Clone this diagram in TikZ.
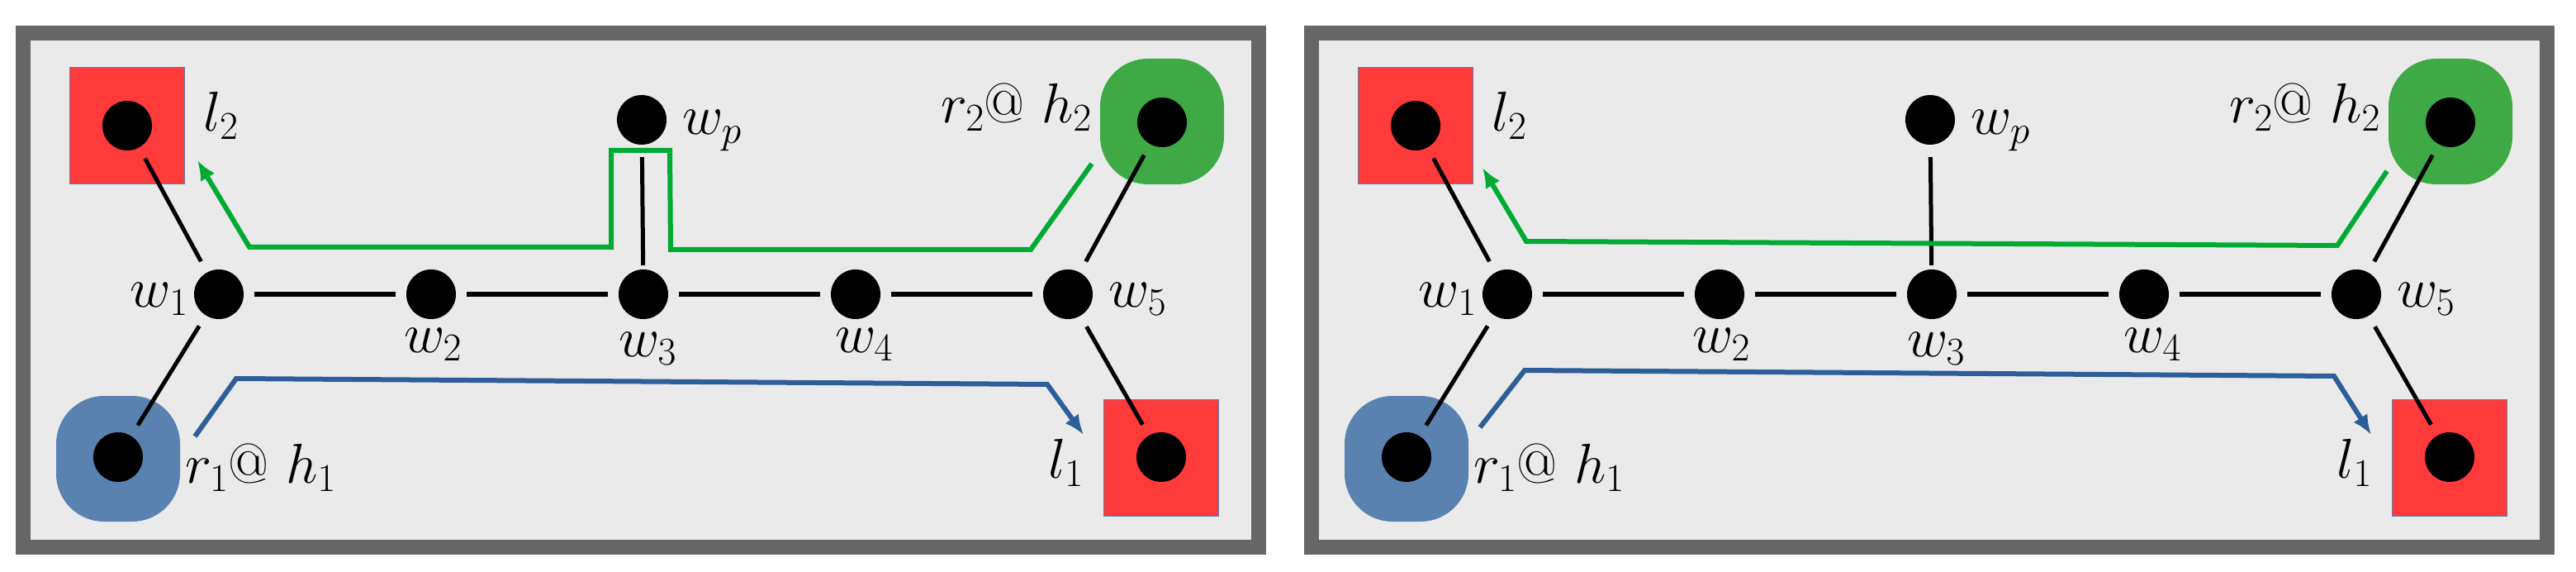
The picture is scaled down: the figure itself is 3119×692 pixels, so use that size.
\documentclass[tikz,border=0pt]{standalone}
\usepackage{fix-cm}
\usetikzlibrary{arrows.meta}
\definecolor{frame}{HTML}{666666}
\definecolor{bg}{HTML}{EAEAEA}
\definecolor{lred}{HTML}{FF3A3A}
\definecolor{rgreen}{HTML}{3FAA45}
\definecolor{rblue}{HTML}{5A82B0}
\definecolor{pgreen}{HTML}{00AA33}
\definecolor{pblue}{HTML}{2E5E9A}
\begin{document}
\begin{tikzpicture}[x=1pt,y=-1pt,
  dot/.style={circle,fill=black,minimum size=60pt,inner sep=0pt},
  lbox/.style={rectangle,fill=lred,draw=rblue,line width=1pt,minimum width=139pt,minimum height=141pt},
  rbox/.style={rectangle,rounded corners=58pt,minimum width=150pt,minimum height=152pt},
  edge/.style={black,line width=5pt,shorten <=15pt,shorten >=15pt},
  hedge/.style={black,line width=6.5pt,shorten <=13pt,shorten >=13pt},
  lab/.style={font=\fontsize{68}{80}\selectfont,inner sep=0pt},
  gpath/.style={pgreen,line width=6pt,-{Latex[length=24pt,width=20pt]}},
  bpath/.style={pblue,line width=6pt,-{Latex[length=24pt,width=20pt]}},
  panel/.style={draw=frame,fill=bg,line width=18pt}]
\useasboundingbox (0,0) rectangle (3119,692);
\foreach \p/\dx in {a/0,b/1560}{
\begin{scope}[xshift=\dx pt,name prefix=\p-]
  \node[panel,minimum width=1496pt,minimum height=622pt,inner sep=0pt] (frame) at (776,351) {};
  \node[lbox] (l2box) at (154,152) {};
  \node[lbox] (l1box) at (1406,554) {};
  \node[rbox,fill=rgreen] (r2box) at (1407,147) {};
  \node[rbox,fill=rblue] (r1box) at (143,555) {};
  \node[dot] (l2) at (154,152) {};
  \node[dot] (r2) at (1407,148) {};
  \node[dot] (r1) at (143,553) {};
  \node[dot] (l1) at (1406,553) {};
  \node[dot] (w1) at (265,356) {};
  \node[dot] (w2) at (522,356) {};
  \node[dot] (w3) at (779,356) {};
  \node[dot] (w4) at (1036,356) {};
  \node[dot] (w5) at (1293,356) {};
  \node[dot] (wp) at (777,145) {};
  \draw[edge] (w1) -- (l2);
  \draw[edge] (w1) -- (r1);
  \draw[edge] (w5) -- (r2);
  \draw[edge] (w5) -- (l1);
  \draw[hedge] (w1) -- (w2);
  \draw[hedge] (w2) -- (w3);
  \draw[hedge] (w3) -- (w4);
  \draw[hedge] (w4) -- (w5);
  \draw[black,line width=5pt,shorten <=5pt,shorten >=15pt] (w3) -- (wp);
  \node[lab,anchor=east] (lw1) at (228,362) {$w_1$};
  \node[lab] (lw2) at (524,417) {$w_2$};
  \node[lab] (lw3) at (784,422) {$w_3$};
  \node[lab] (lw4) at (1046,417) {$w_4$};
  \node[lab,anchor=west] (lw5) at (1342,362) {$w_5$};
  \node[lab,anchor=west] (lwp) at (826,158) {$w_p$};
  \node[lab,anchor=west] (ll2) at (246,140) {$l_2$};
  \node[lab,anchor=east] (lr2) at (1322,130) {$r_2$@ $h_2$};
  \node[lab,anchor=west] (lr1) at (224,566) {$r_1$@ $h_1$};
  \node[lab,anchor=east] (ll1) at (1312,560) {$l_1$};
\end{scope}}
% left panel paths
\coordinate (ag0) at (1322,198); \coordinate (ag1) at (1248,302);
\coordinate (ag2) at (812,302); \coordinate (ag3) at (811,182);
\coordinate (ag4) at (740,182); \coordinate (ag5) at (740,299);
\coordinate (ag6) at (302,299); \coordinate (ag7) at (239,194);
\draw[gpath] (ag0) -- (ag1) -- (ag2) -- (ag3) -- (ag4) -- (ag5) -- (ag6) -- (ag7);
\coordinate (ab0) at (236,528); \coordinate (ab1) at (286,458);
\coordinate (ab2) at (1268,465); \coordinate (ab3) at (1312,526);
\draw[bpath] (ab0) -- (ab1) -- (ab2) -- (ab3);
% right panel paths
\coordinate (bg0) at (2890,207); \coordinate (bg1) at (2830,297);
\coordinate (bg2) at (1848,292); \coordinate (bg3) at (1795,203);
\draw[gpath] (bg0) -- (bg1) -- (bg2) -- (bg3);
\coordinate (bb0) at (1792,517); \coordinate (bb1) at (1846,448);
\coordinate (bb2) at (2826,455); \coordinate (bb3) at (2871,526);
\draw[bpath] (bb0) -- (bb1) -- (bb2) -- (bb3);
\end{tikzpicture}
\end{document}
